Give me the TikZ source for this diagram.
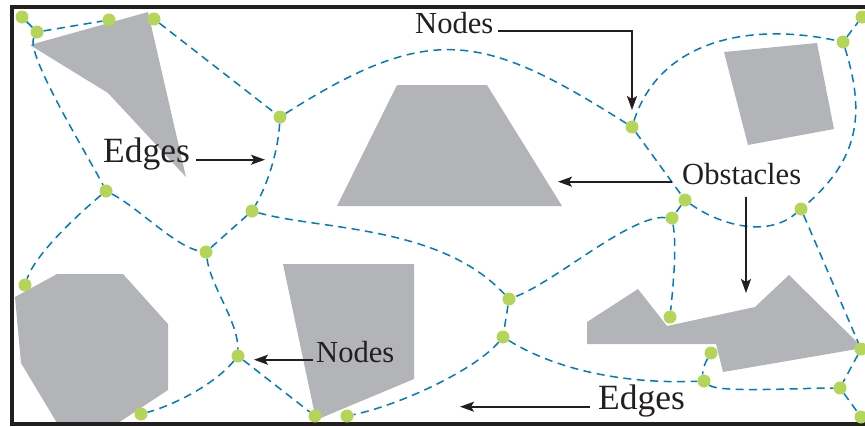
\documentclass[tikz,border=0pt]{standalone}
\usepackage{fontspec}
\setmainfont{Liberation Serif}
\usetikzlibrary{arrows.meta}

\definecolor{obst}{RGB}{179,180,184}
\definecolor{nodegreen}{RGB}{181,213,88}
\definecolor{edgeblue}{RGB}{0,122,194}
\definecolor{ink}{RGB}{35,31,32}

\def\smallfont{\fontsize{30.6}{34}\selectfont}
\def\bigfont{\fontsize{35.5}{40}\selectfont}

\tikzset{
  dot/.style={circle, fill=nodegreen, inner sep=0pt, minimum size=13pt},
  edge/.style={edgeblue, line width=1.5pt, dash pattern=on 8pt off 5.5pt},
  lbl/.style={inner sep=0pt, text=ink, anchor=base west},
  pointer/.style={-{Stealth[length=14pt,width=10pt,inset=3pt]}, ink, line width=1.6pt},
}

\begin{document}
\begin{tikzpicture}[x=1pt, y=-1pt]
\useasboundingbox (0,0) rectangle (865,426);
% Obstacles
\fill[obst] (30,45) -- (148,12) -- (186,177) -- (108,93) -- cycle;
\fill[obst] (397,85) -- (487,85) -- (562,206) -- (337,206) -- cycle;
\fill[obst] (724,52) -- (817,43) -- (834,129) -- (748,145) -- cycle;
\fill[obst] (15,297) -- (57,274) -- (123,274) -- (168,324) -- (168,390)
  -- (118,423) -- (57,423) -- (21,363) -- cycle;
\fill[obst] (283,264) -- (414,264) -- (414,379) -- (316,420) -- cycle;
\fill[obst] (587,322) -- (638,289) -- (667,326) -- (755,307) -- (789,275)
  -- (863,348) -- (723,372) -- (716,344) -- (587,344) -- cycle;
% Frame (open on the right)
\draw[ink, line width=4pt] (865,7) -- (12,7) -- (12,424) -- (865,424);
% Roadmap nodes
\foreach \n/\x/\y in {1/22/17, 2/37/32, 3/109/20, 4/154/19, 5/280/117,
    6/106/191, 7/252/211, 8/632/127, 9/843/42, 10/862/17, 11/685/200,
    12/801/209, 13/672/218, 14/25/285, 15/206/252, 16/238/356, 17/141/414,
    18/509/299, 19/503/337, 20/315/416, 21/347/416, 22/670/317,
    23/711/353, 24/704/381, 25/861/349, 26/840/388, 27/861/417}
  \node[dot] (v\n) at (\x,\y) {};
% Roadmap edges
\draw[edge] (v1) -- (v2);
\draw[edge] (v2) -- (v3);
\draw[edge] (v2) .. controls +(-12,22) and +(-15,-30) .. (v6);
\draw[edge] (v4) -- (v5);
\draw[edge] (v5) .. controls +(-2,35) and +(15,-25) .. (v7);
\draw[edge] (v5) .. controls +(150,-95) and +(-150,-95) .. (v8);
\draw[edge] (v8) .. controls +(28,-87) and +(-93,-20) .. (v9);
\draw[edge] (v9) -- (v10);
\draw[edge] (v9) .. controls +(23,73) and +(57,-49) .. (v12);
\draw[edge] (v8) -- (v11);
\draw[edge] (v11) -- (v13);
\draw[edge] (v11) .. controls +(30,22) and +(-36,31) .. (v12);
\draw[edge] (v13) .. controls +(-42,-3) and +(46,-17) .. (v18);
\draw[edge] (v13) .. controls +(5,30) and +(3,-30) .. (v22);
\draw[edge] (v7) .. controls +(68,19) and +(-69,-74) .. (v18);
\draw[edge] (v18) -- (v19);
\draw[edge] (v19) .. controls +(-28,33) and +(53,-11) .. (v21);
\draw[edge] (v19) .. controls +(57,35) and +(-74,3) .. (v24);
\draw[edge] (v23) .. controls +(-6,10) and +(-2,-10) .. (v24);
\draw[edge] (v24) .. controls +(15,12) and +(-40,0) .. (v26);
\draw[edge] (v26) -- (v27);
\draw[edge] (v12) -- (v25);
\draw[edge] (v25) -- (v26);
\draw[edge] (v6) .. controls +(30,15) and +(-30,-5) .. (v15);
\draw[edge] (v6) .. controls +(-30,25) and +(10,-30) .. (v14);
\draw[edge] (v15) -- (v7);
\draw[edge] (v15) .. controls +(5,35) and +(0,-35) .. (v16);
\draw[edge] (v16) .. controls +(-25,30) and +(30,-8) .. (v17);
\draw[edge] (v16) -- (v20);
% Labels and pointers
\node[lbl, font=\smallfont] (nodesTop) at (415,33) {Nodes};
\coordinate (tipNodesTop) at (632,110);
\draw[pointer] ([xshift=4pt]nodesTop.mid east) -| (tipNodesTop);

\node[lbl, font=\bigfont] (edgesLeft) at (103,162) {Edges};
\coordinate (tipEdgesLeft) at (265,154);
\draw[pointer] ([xshift=6pt]edgesLeft.mid east) -- (edgesLeft.mid east -| tipEdgesLeft);

\node[lbl, font=\smallfont] (obstacles) at (682,184) {Obstacles};
\coordinate (tipObsLeft) at (558,177);
\coordinate (tipObsDown) at (746,293);
\draw[pointer] ([xshift=-10pt]obstacles.mid west) -- (obstacles.mid west -| tipObsLeft);
\draw[pointer] ([yshift=-12pt]tipObsDown |- obstacles.south) -- (tipObsDown);

\node[lbl, font=\smallfont] (nodesBot) at (316,362) {Nodes};
\coordinate (tipNodesBot) at (254,355);
\draw[pointer] ([xshift=-3pt]nodesBot.mid west) -- (nodesBot.mid west -| tipNodesBot);

\node[lbl, font=\bigfont] (edgesBot) at (598,409) {Edges};
\coordinate (tipEdgesBot) at (460,400);
\draw[pointer] ([xshift=-8pt]edgesBot.mid west) -- (edgesBot.mid west -| tipEdgesBot);
\end{tikzpicture}
\end{document}
